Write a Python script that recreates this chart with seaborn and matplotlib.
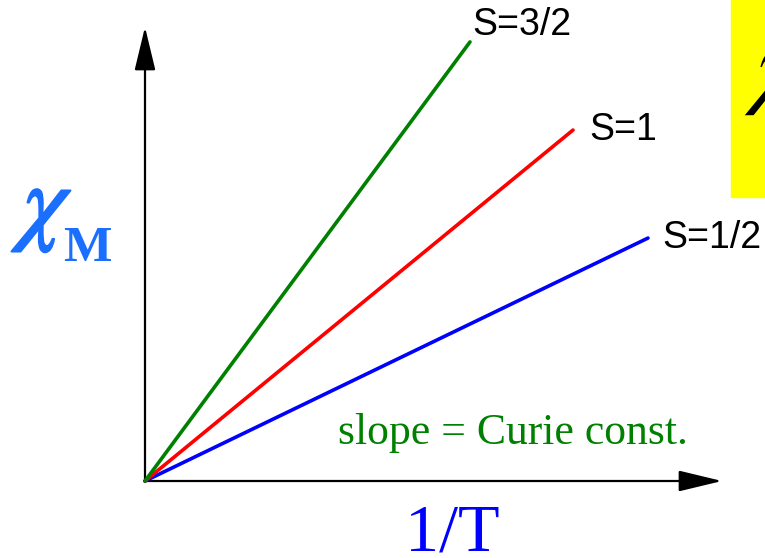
import numpy as np
import pandas as pd
import matplotlib
matplotlib.use("Agg")
import matplotlib.pyplot as plt
import matplotlib.patheffects as pe
import seaborn as sns

# Spin states, their slopes (chi_M per unit 1/T) and how far each line runs
spins = ["S=1/2", "S=1", "S=3/2"]
slopes = [0.483, 0.820, 1.351]
x_end = [5.03, 4.28, 3.25]
colors = ["#0000ff", "#ff0000", "#008000"]

rows = []
for s, k, xe in zip(spins, slopes, x_end):
    for xv in (0.0, xe):
        rows.append({"spin": s, "inv_T": xv, "chi": k * xv})
df = pd.DataFrame(rows)

sns.set_style("white")
plt.rcParams["mathtext.fontset"] = "stix"

fig = plt.figure(figsize=(7.65, 5.58), dpi=100)
ax = fig.add_axes([0, 0, 1, 1])
ax.set_xlim(-1.45, 6.20)
ax.set_ylim(-0.77, 4.81)
ax.axis("off")

# Yellow panel on the right edge with a large symbol running off the page
fig.patches.append(plt.Rectangle((731 / 765, 1 - 197 / 558), 40 / 765, 197 / 558,
                                 transform=fig.transFigure, color="#ffff00", zorder=0))
fig.text(744 / 765, 1 - 26 / 558, r"$\chi$", fontsize=68, color="black",
         ha="left", va="top")

# Axes with arrow heads
arrow_style = "-|>,head_length=2.7,head_width=0.65"
ax.annotate("", xy=(5.77, 0), xytext=(-0.01, 0),
            arrowprops=dict(arrowstyle=arrow_style, lw=1.6, color="black",
                            mutation_scale=10, shrinkA=0, shrinkB=0))
ax.annotate("", xy=(0, 4.54), xytext=(0, -0.01),
            arrowprops=dict(arrowstyle=arrow_style, lw=1.6, color="black",
                            mutation_scale=10, shrinkA=0, shrinkB=0))

sns.lineplot(data=df, x="inv_T", y="chi", hue="spin", hue_order=spins,
             palette=colors, legend=False, lw=2.6, ax=ax,
             solid_capstyle="round", zorder=3)

# Labels at the end of each line
offsets = {"S=1/2": (10, 0), "S=1": (12, 0), "S=3/2": (2, 12)}
for s, k, xe in zip(spins, slopes, x_end):
    ax.annotate(s, xy=(xe, k * xe), xytext=offsets[s], textcoords="offset points",
                fontsize=27, family="Liberation Sans", color="black",
                ha="left", va="center")

ax.text(338 / 765, 1 - 444 / 558, "slope = Curie const.", transform=fig.transFigure,
        fontsize=31.5, family="Liberation Serif", color="#008000",
        ha="left", va="baseline")

# Axis titles
chi_color = "#1a6fff"
fig.text(22 / 765, 1 - 162 / 558, r"$\chi$", fontsize=70, color=chi_color,
         ha="left", va="top",
         path_effects=[pe.withStroke(linewidth=1.5, foreground=chi_color)])
fig.text(63 / 765, 1 - 261 / 558, "M", fontsize=37, color=chi_color,
         family="Liberation Serif", fontweight="bold", ha="left", va="baseline")
fig.text(405 / 765, 1 - 551 / 558, "1/T", fontsize=49, color="#0000ff",
         family="Liberation Serif", ha="left", va="baseline")

fig.savefig("out.png", dpi=100)
